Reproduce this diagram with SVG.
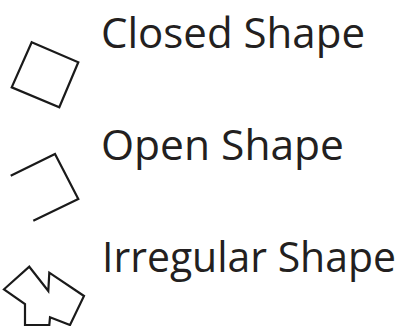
<svg xmlns="http://www.w3.org/2000/svg" width="405" height="326" viewBox="0 0 405 326">
<style>
.s{fill:none;stroke:#1a1a1a;stroke-width:2.2;stroke-linejoin:miter}
.t{font-family:"Open Sans","DejaVu Sans",sans-serif;font-size:42px;fill:#231f20}
</style>
<rect width="405" height="326" fill="#fff"/>
<g id="closed">
<polygon class="s" points="31.7,42.3 78.3,62.3 59.3,107.3 11.7,87.3"/>
<text class="t" x="101" y="47.7" textLength="264" lengthAdjust="spacingAndGlyphs">Closed Shape</text>
</g>
<g id="open">
<polyline class="s" points="10.7,175.7 55,154 78.3,199 33.3,220.7"/>
<text class="t" x="101" y="159.7" textLength="243" lengthAdjust="spacingAndGlyphs">Open Shape</text>
</g>
<g id="irregular">
<polygon class="s" points="29.3,266.7 48.3,291 49.3,272.7 84,296 70,325 50,317.3 49.3,325 25,325 25,304 4,289.3"/>
<text class="t" x="102" y="271.7" font-size="40" textLength="294" lengthAdjust="spacingAndGlyphs">Irregular Shape</text>
</g>
</svg>
